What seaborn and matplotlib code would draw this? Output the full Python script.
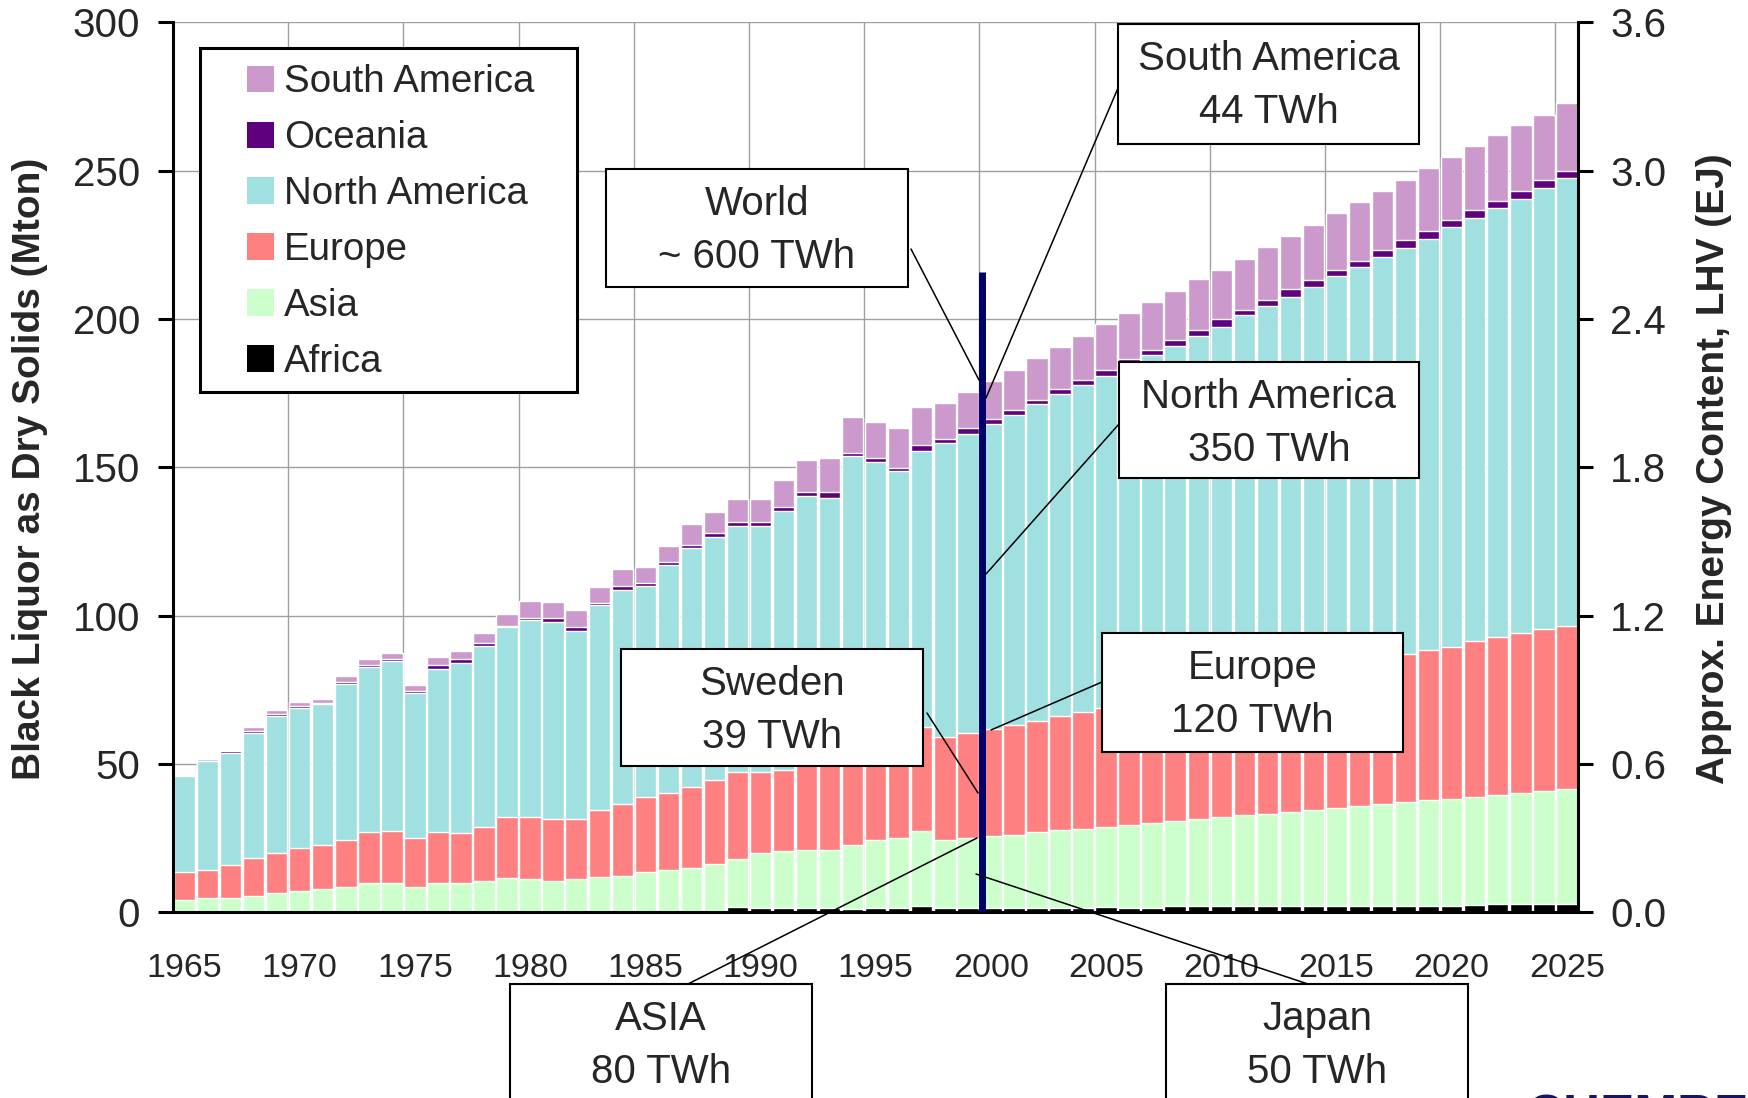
import matplotlib
matplotlib.use('Agg')
import matplotlib.pyplot as plt
from matplotlib.patches import Rectangle
from matplotlib.lines import Line2D
import seaborn as sns
import pandas as pd

# black liquor production, Mton dry solids, per region
years = list(range(1965, 2026))

africa = [0.3, 0.3, 0.3, 0.3, 0.3, 0.3, 0.3, 0.3, 0.3, 0.3,
          0.3, 0.3, 0.3, 0.3, 0.3, 0.3, 0.3, 0.3, 0.3, 0.3,
          0.3, 0.3, 0.3, 0.5, 1.8, 1.4, 1.4, 1.4, 1.4, 1.1,
          1.4, 1.4, 2.2, 1.4, 1.4, 1.4, 1.4, 1.4, 1.4, 1.4,
          1.9, 1.4, 1.5, 2.1, 2.0, 2.2, 2.2, 2.2, 2.2, 2.2,
          2.2, 2.2, 2.2, 2.2, 2.2, 2.2, 2.5, 2.8, 2.8, 2.8,
          2.8]

asia = [3.9, 4.5, 4.5, 5.3, 6.2, 6.9, 7.6, 8.2, 9.6, 9.6,
        8.2, 9.6, 9.6, 10.3, 11.3, 10.9, 10.3, 10.9, 11.6, 11.9,
        13.3, 14.0, 14.6, 15.8, 16.2, 18.6, 19.3, 19.6, 19.6, 21.6,
        23.0, 23.7, 25.2, 23.0, 23.7, 24.3, 24.7, 25.7, 26.4, 26.7,
        26.9, 28.1, 28.6, 28.7, 29.5, 30.0, 30.6, 31.0, 31.6, 32.3,
        33.0, 33.7, 34.4, 35.0, 35.7, 36.0, 36.4, 36.8, 37.5, 38.1,
        38.8]

europe = [9.5, 9.5, 11.2, 12.8, 13.5, 14.6, 14.8, 15.9, 17.2, 17.5,
          16.6, 17.2, 16.8, 18.2, 20.5, 20.9, 20.9, 20.3, 22.6, 24.3,
          25.3, 25.9, 27.3, 28.3, 29.3, 27.3, 27.3, 29.5, 31.0, 32.3,
          32.6, 33.9, 35.1, 34.7, 35.4, 36.1, 37.0, 37.4, 38.4, 39.4,
          40.1, 40.8, 41.7, 42.2, 43.1, 43.7, 44.5, 45.4, 46.2, 46.8,
          47.3, 47.9, 48.6, 49.9, 50.5, 51.2, 52.6, 53.2, 53.9, 54.6,
          54.9]

north_america = [32.3, 36.7, 37.7, 42.0, 46.2, 47.1, 47.5, 52.6, 55.6, 57.3,
                 48.8, 54.9, 57.3, 61.0, 64.1, 66.4, 66.4, 63.3, 69.1, 72.2,
                 71.1, 76.9, 80.6, 81.9, 82.9, 82.9, 87.3, 89.8, 87.7, 98.8,
                 94.8, 89.8, 93.1, 99.2, 100.8, 102.8, 104.6, 106.9, 108.5, 110.3,
                 111.9, 114.4, 116.1, 117.9, 119.7, 121.4, 124.1, 125.8, 127.4, 129.5,
                 132.0, 133.8, 135.7, 136.8, 138.6, 141.6, 142.6, 144.6, 146.3, 148.7,
                 151.1]

oceania = [0.2, 0.1, 0.7, 0.7, 0.7, 0.8, 0.5, 0.6, 0.7, 0.7,
           0.7, 1.4, 1.4, 1.0, 0.4, 0.7, 1.3, 1.4, 0.7, 1.3,
           1.0, 1.0, 1.0, 1.4, 1.4, 1.4, 1.3, 1.4, 2.0, 1.1,
           1.4, 1.0, 2.0, 1.3, 2.0, 1.7, 1.6, 1.3, 1.7, 1.7,
           2.0, 1.8, 1.7, 2.0, 2.0, 2.7, 1.7, 2.0, 2.7, 2.3,
           2.1, 2.0, 2.3, 2.7, 2.6, 2.4, 2.7, 2.4, 2.6, 2.7,
           2.3]

south_america = [0.5, 0.5, 0.5, 1.4, 1.3, 1.2, 1.2, 2.1, 2.0, 2.0,
                 2.0, 2.7, 2.7, 3.4, 4.0, 5.7, 5.4, 5.7, 5.4, 5.7,
                 5.4, 5.4, 7.1, 7.0, 7.7, 7.7, 9.1, 10.8, 11.5, 12.1,
                 12.1, 13.5, 12.8, 12.1, 12.1, 12.8, 13.5, 14.2, 14.2, 14.8,
                 15.5, 15.5, 16.1, 16.5, 17.2, 16.5, 17.1, 17.9, 17.9, 18.6,
                 19.2, 19.8, 19.9, 20.3, 21.3, 21.1, 21.5, 22.2, 22.3, 21.9,
                 22.9]

mass_ticks = [0, 50, 100, 150, 200, 250, 300]
energy_ticks = [0.0, 0.6, 1.2, 1.8, 2.4, 3.0, 3.6]
marker_year = 2000
marker_top = 216

# stacking order, bottom to top
regions = ["Africa", "Asia", "Europe", "North America", "Oceania", "South America"]
region_colors = {
    "Africa": "#000000",
    "Asia": "#CCFFCC",
    "Europe": "#FF8080",
    "North America": "#A0E0E0",
    "Oceania": "#5F007F",
    "South America": "#CC99CC",
}

df = pd.DataFrame({
    "year": [str(y) for y in years],
    "Africa": africa,
    "Asia": asia,
    "Europe": europe,
    "North America": north_america,
    "Oceania": oceania,
    "South America": south_america,
})
cum = df[regions].cumsum(axis=1)

W, H = 1749, 1098

sns.set_style("white")
plt.rcParams['font.family'] = ['Liberation Sans', 'DejaVu Sans']


def fx(x):
    return x / W


def fy(y):
    return 1 - y / H


fig = plt.figure(figsize=(W / 100, H / 100), dpi=100)
fig.patch.set_facecolor("white")
ax = fig.add_axes([fx(173), fy(912.4), 1405.4 / W, 890.1 / H])

# stacked bars: draw cumulative totals from the top layer down
for reg in reversed(regions):
    sns.barplot(x=df["year"], y=cum[reg], color=region_colors[reg], saturation=1,
                width=0.93, errorbar=None, ax=ax, zorder=2)

ax.set_xlabel("")
ax.set_ylabel("")
ax.set_xlim(-0.5, len(years) - 0.5)
ax.set_ylim(0, 300)
ax.set_yticks(mass_ticks)

label_idx = [i for i, y in enumerate(years) if y % 5 == 0]
ax.set_xticks([i - 0.5 for i in label_idx])
ax.set_xticklabels([])
ax.set_xticks(label_idx, minor=True)
ax.set_xticklabels([str(years[i]) for i in label_idx], minor=True)

ax.tick_params(axis='x', which='major', direction='out', length=9, width=2, color='black')
ax.tick_params(axis='x', which='minor', length=0, pad=29, labelsize=24.5)
ax.tick_params(axis='y', direction='out', length=10.5, width=2.2, pad=13,
               labelsize=29, color='black', left=True)

ax.grid(True, which='major', color='#a0a0a0', linewidth=1.0)
ax.set_axisbelow(True)

for side in ["left", "bottom", "right"]:
    ax.spines[side].set_visible(True)
    ax.spines[side].set_color("black")
    ax.spines[side].set_linewidth(2.2)
ax.spines["top"].set_visible(False)

# vertical marker for year 2000
x_marker = years.index(marker_year) - 0.38
ax.plot([x_marker, x_marker], [0, marker_top], color="#000066", lw=5,
        solid_capstyle='butt', zorder=5)

# secondary axis: energy content
ax2 = ax.twinx()
ax2.set_ylim(0, 3.6)
ax2.set_yticks(energy_ticks)
ax2.yaxis.set_major_formatter('{x:.1f}')
ax2.tick_params(axis='y', direction='out', length=11, width=2.2, pad=12,
                labelsize=29, color='black', right=True)
for s in ax2.spines.values():
    s.set_visible(False)
ax2.grid(False)

fig.text(fx(30), fy(468.5), "Black Liquor as Dry Solids (Mton)", rotation=90,
         ha='center', va='center', fontsize=28, fontweight='bold')
fig.text(fx(1714), fy(468.5), "Approx. Energy Content, LHV (EJ)", rotation=90,
         ha='center', va='center', fontsize=28, fontweight='bold')

# legend box (top to bottom order as in the chart)
fig.add_artist(Rectangle((fx(200), fy(392.3)), 377.5 / W, 344.6 / H,
                         transform=fig.transFigure, facecolor='white',
                         edgecolor='black', linewidth=2.2, zorder=4))
row_centers = [79, 135, 190.7, 246.7, 302.3, 358.3]
for reg, yc in zip(reversed(regions), row_centers):
    fig.add_artist(Rectangle((fx(246.8), fy(yc + 13.4)), 26.8 / W, 26.8 / H,
                             transform=fig.transFigure, facecolor=region_colors[reg],
                             edgecolor='none', zorder=5))
    fig.text(fx(284), fy(yc + 13.4), reg, ha='left', va='baseline', fontsize=27.7, zorder=6)

# callout boxes: (line1, line2, box l/t/r/b in px, leader from, leader to)
callouts = [
    ("World", "~ 600 TWh", (606, 169, 908, 287), (911, 249), (979, 380)),
    ("South America", "44 TWh", (1118, 24, 1419, 144), (1118, 88), (986, 398)),
    ("North America", "350 TWh", (1119, 362, 1419, 478), (1119, 424), (986, 574)),
    ("Sweden", "39 TWh", (621, 649, 923, 766), (927, 713), (978, 793)),
    ("Europe", "120 TWh", (1102, 633, 1403, 752), (1102, 682), (991, 730)),
    ("ASIA", "80 TWh", (510, 984, 812, 1104), (688, 984), (977, 838)),
    ("Japan", "50 TWh", (1166, 984, 1468, 1104), (1308, 984), (976, 874)),
]
for l1, l2, (bl, bt, br, bb), p0, p1 in callouts:
    fig.add_artist(Line2D([fx(p0[0]), fx(p1[0])], [fy(p0[1]), fy(p1[1])],
                          transform=fig.transFigure, color='black', lw=1.1, zorder=6))
    fig.add_artist(Rectangle((fx(bl), fy(bb)), (br - bl) / W, (bb - bt) / H,
                             transform=fig.transFigure, facecolor='white',
                             edgecolor='black', linewidth=1.5, zorder=7))
    cx = fx((bl + br) / 2)
    fig.text(cx, fy(bt + 46), l1, ha='center', va='baseline', fontsize=29, zorder=8)
    fig.text(cx, fy(bt + 99), l2, ha='center', va='baseline', fontsize=29, zorder=8)

fig.text(fx(1527), fy(1093), "CHEMREC", ha='left', va='top', fontsize=37,
         fontweight='bold', color='#14146E')

plt.savefig("out.png", dpi=100, facecolor='white')
plt.close()
